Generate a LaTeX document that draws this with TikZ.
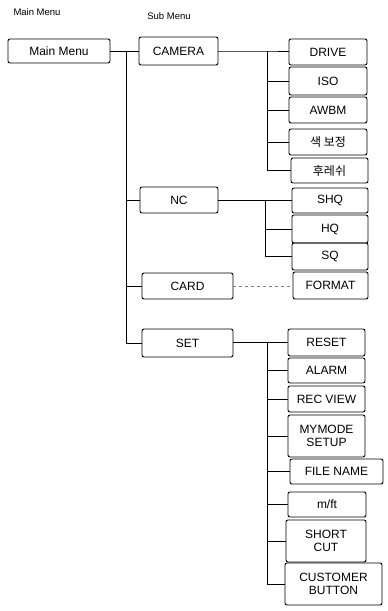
\documentclass[tikz,border=0pt]{standalone}
\usepackage{fontspec}
\setmainfont{Liberation Sans}
\newfontfamily\kofont{Noto Sans CJK KR}
\begin{document}
\begin{tikzpicture}[x=1pt,y=-1pt,
  bx/.style={draw=black,line width=0.9pt,rounded corners=2pt,inner sep=0pt,align=center,font=\fontsize{12}{13}\selectfont},
  hd/.style={font=\fontsize{9.5}{10}\selectfont},
  ln/.style={draw=black,line width=0.9pt},
  lt/.style={draw=gray,line width=0.5pt,dashed}]
\useasboundingbox (0,0) rectangle (388,611);
% headings
\node[hd] (hmain) at (37,12) {Main Menu};
\node[hd] (hsub) at (169,16) {Sub Menu};
% main
\node[bx,minimum width=102,minimum height=24] (main) at (59,51) {Main Menu};
% sub menu
\node[bx,minimum width=79,minimum height=28] (camera) at (178.5,51) {CAMERA};
\node[bx,minimum width=78,minimum height=26] (nc) at (179,200) {NC};
\node[bx,minimum width=91,minimum height=26] (card) at (187.5,286) {CARD};
\node[bx,minimum width=91,minimum height=28] (set) at (187.5,343) {SET};
% camera children
\node[bx,minimum width=78,minimum height=26] (drive) at (328,52) {DRIVE};
\node[bx,minimum width=78,minimum height=28] (iso) at (328,81) {ISO};
\node[bx,minimum width=78,minimum height=26] (awbm) at (328,110) {AWBM};
\node[bx,minimum width=78,minimum height=26] (color) at (328,142) {\kofont 색 보정};
\node[bx,minimum width=77,minimum height=25] (flash) at (329.5,170.5) {\kofont 후레쉬};
% nc children
\node[bx,minimum width=76,minimum height=25] (shq) at (330,200.5) {SHQ};
\node[bx,minimum width=76,minimum height=28] (hq) at (330,229) {HQ};
\node[bx,minimum width=76,minimum height=27] (sq) at (330,256.5) {SQ};
% card child
\node[bx,minimum width=75,minimum height=27] (format) at (330.5,285.5) {FORMAT};
% set children
\node[bx,minimum width=77,minimum height=27] (reset) at (326.5,342.5) {RESET};
\node[bx,minimum width=77,minimum height=25] (alarm) at (326.5,370.5) {ALARM};
\node[bx,minimum width=77,minimum height=26] (recview) at (326.5,399) {REC VIEW};
\node[bx,minimum width=77,minimum height=42] (mymode) at (326.5,436) {MYMODE\\SETUP};
\node[bx,minimum width=93,minimum height=25] (filename) at (336.5,471.5) {FILE NAME};
\node[bx,minimum width=78,minimum height=25] (mft) at (327,504.5) {m/ft};
\node[bx,minimum width=80,minimum height=42] (shortcut) at (326,541) {SHORT\\CUT};
\node[bx,minimum width=97,minimum height=42] (customer) at (333.5,584) {CUSTOMER\\BUTTON};
% trunk
\coordinate (t0) at (126,51);
\draw[ln] (main.east) -- (camera.west);
\draw[ln] (t0) |- (set.west);
\draw[ln] (t0 |- nc.west) -- (nc.west);
\draw[ln] (t0 |- card.west) -- (card.west);
% camera branch
\coordinate (cb) at (267,51);
\draw[ln] (camera.east) -- (cb) -- (drive.west |- cb);
\draw[ln] (cb) |- (flash.west);
\draw[ln] (cb |- iso.west) -- (iso.west);
\draw[ln] (cb |- awbm.west) -- (awbm.west);
\draw[ln] (cb |- color.west) -- (color.west);
% nc branch
\coordinate (nb) at (265,200.5);
\draw[ln] (nc.east |- nb) -- (shq.west);
\draw[ln] (nb) |- (sq.west);
\draw[ln] (nb |- hq.west) -- (hq.west);
% card
\draw[lt] (card.east) -- (format.west |- card.east);
% set branch
\coordinate (sb) at (267,342.5);
\draw[ln] (set.east |- sb) -- (reset.west);
\draw[ln] (sb) |- (customer.west);
\draw[ln] (sb |- alarm.west) -- (alarm.west);
\draw[ln] (sb |- recview.west) -- (recview.west);
\draw[ln] (sb |- mymode.west) -- (mymode.west);
\draw[ln] (sb |- filename.west) -- (filename.west);
\draw[ln] (sb |- mft.west) -- (mft.west);
\draw[ln] (sb |- shortcut.west) -- (shortcut.west);
\end{tikzpicture}
\end{document}
